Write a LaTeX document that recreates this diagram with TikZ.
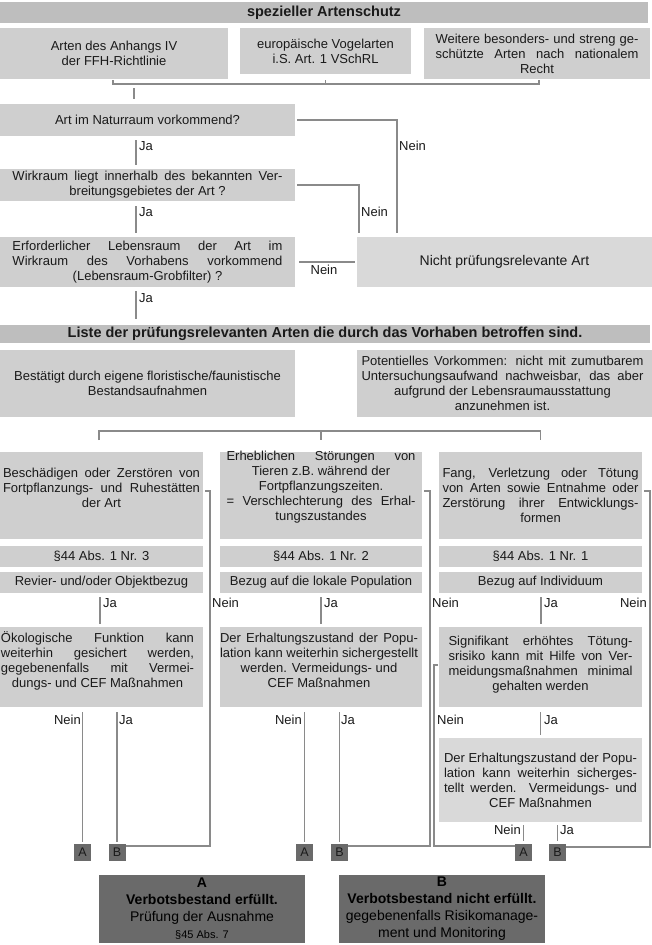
\documentclass[tikz,border=0pt]{standalone}
\usepackage{fontspec}
\setmainfont{Liberation Sans}
\usetikzlibrary{calc}
\definecolor{bgA}{HTML}{BEBEBE}
\definecolor{bgB}{HTML}{CFCFCF}
\definecolor{bgC}{HTML}{D9D9D9}
\definecolor{bgD}{HTML}{6A6A6A}
\definecolor{lineC}{HTML}{8A8A8A}
\definecolor{txtC}{HTML}{1A1A1A}
\newcommand\fsz[2]{\fontsize{#1}{#2}\selectfont}
\newcommand\jl[2]{\makebox[#1pt][s]{#2}}
\begin{document}
\begin{tikzpicture}[x=1pt,y=-1pt,
 fillbox/.style={fill=bgB, draw=none, inner sep=0pt, outer sep=0pt},
 txt/.style={inner sep=0pt, align=center, text=txtC, font=\fsz{13}{15}},
 lbl/.style={inner sep=0pt, text=txtC, font=\fsz{13}{15}},
 conn/.style={draw=lineC, line width=1.1pt},
 ab/.style={fill=bgD, minimum width=17pt, minimum height=17pt, inner sep=0pt, font=\fsz{12.5}{14}, text=txtC},
]
\useasboundingbox (0,0) rectangle (652,945);
\fill[white] (0,0) rectangle (652,945);

% title
\node[fillbox, fill=bgA, minimum width=648pt, minimum height=21pt] (T) at (324,12.5) {};
\node[txt, font=\bfseries\fsz{14.5}{17}] (Tt) at (T) {spezieller Artenschutz};

% row of three
\node[fillbox, minimum width=228pt, minimum height=51pt] (R1) at (114,53.5) {};
\node[txt] (R1t) at (R1) {Arten des Anhangs IV\\der FFH-Richtlinie};
\node[fillbox, minimum width=171pt, minimum height=46pt] (R2) at (325.5,51) {};
\node[txt] (R2t) at (R2) {europäische Vogelarten\\i.S. Art. 1 VSchRL};
\node[fillbox, minimum width=226pt, minimum height=51pt] (R3) at (537,53.5) {};
\node[txt] (R3t) at (R3) {\jl{203}{Weitere besonders- und streng ge-}\\\jl{203}{schützte Arten nach nationalem}\\Recht};

% decision boxes
\node[fillbox, minimum width=295pt, minimum height=32pt] (N1) at (147.5,120) {};
\node[txt] (N1t) at (N1) {Art im Naturraum vorkommend?};
\node[fillbox, minimum width=295pt, minimum height=32pt] (N2) at (147.5,185) {};
\node[txt] (N2t) at (N2) {\jl{270}{Wirkraum liegt innerhalb des bekannten Ver-}\\breitungsgebietes der Art ?};
\node[fillbox, minimum width=295pt, minimum height=50pt] (N3) at (147.5,262) {};
\node[txt] (N3t) at (N3) {\jl{270}{Erforderlicher Lebensraum der Art im}\\\jl{270}{Wirkraum des Vorhabens vorkommend}\\(Lebensraum-Grobfilter) ?};
\node[fillbox, fill=bgC, minimum width=295pt, minimum height=50pt] (NR) at (504.5,262) {};
\node[txt, font=\fsz{14}{16}] (NRt) at (NR) {Nicht prüfungsrelevante Art};

% bracket 1
\coordinate (R1b) at ([yshift=-1pt]R1.south);
\coordinate (j0) at (134,84);
\coordinate (xj) at (136,0);
\draw[conn] ([xshift=-1pt]R1b) |- (j0) -| ([xshift=2pt,yshift=-1pt]R3.south);
\draw[conn] (R2.south |- R1b) -- (R2.south |- j0);
\draw[conn, shorten <=4pt, shorten >=5pt] (j0) -- (j0 |- N1.north);

% Ja / Nein in the upper part
\draw[conn, shorten <=4pt, shorten >=4pt] (N1.south -| xj) -- (N2.north -| xj);
\node[lbl, anchor=west] (Lj1) at (139,146) {Ja};
\coordinate (n1) at (397,120);
\draw[conn, shorten >=4pt] ([xshift=2pt]N1.east) -- (n1) -- (n1 |- NR.north);
\node[lbl, anchor=west] (Ln1) at (399,146) {Nein};
\draw[conn, shorten <=5pt, shorten >=4pt] (N2.south -| xj) -- (N3.north -| xj);
\node[lbl, anchor=west] (Lj2) at (139,212) {Ja};
\coordinate (n2) at (359,185);
\draw[conn, shorten >=4pt] ([xshift=2pt]N2.east) -- (n2) -- (n2 |- NR.north);
\node[lbl, anchor=west] (Ln2) at (361,212) {Nein};
\draw[conn, shorten <=4pt, shorten >=2pt] (N3.east) -- (NR.west);
\node[lbl, anchor=north] (Ln3) at (324,265) {Nein};

% list bar
\node[fillbox, fill=bgA, minimum width=650pt, minimum height=18pt] (LB) at (325,333.5) {};
\node[txt, font=\bfseries\fsz{14.5}{17}] (LBt) at (LB) {Liste der prüfungsrelevanten Arten die durch das Vorhaben betroffen sind.};
\draw[conn, shorten <=4pt, shorten >=6pt] (N3.south -| xj) -- (LB.north -| xj);
\node[lbl, anchor=west] (Lj3) at (139,298) {Ja};

\node[fillbox, minimum width=295pt, minimum height=67pt] (BE) at (147.5,383.5) {};
\node[txt] (BEt) at (BE) {Bestätigt durch eigene floristische/faunistische\\Bestandsaufnahmen};
\node[fillbox, minimum width=295pt, minimum height=67pt] (PV) at (504.5,383.5) {};
\node[txt] (PVt) at ([xshift=-2pt]PV.center) {\jl{282}{Potentielles Vorkommen: nicht mit zumutbarem}\\\jl{282}{Untersuchungsaufwand nachweisbar, das aber}\\aufgrund der Lebensraumausstattung\\anzunehmen ist.};

% three columns
\node[fillbox, minimum width=203pt, minimum height=87pt] (C1) at (101.5,495.5) {};
\node[txt] (C1t) at ([yshift=7.5pt]C1.center) {\jl{197}{Beschädigen oder Zerstören von}\\\jl{197}{Fortpflanzungs- und Ruhestätten}\\der Art};
\node[fillbox, minimum width=202pt, minimum height=87pt] (C2) at (321,495.5) {};
\node[txt] (C2t) at ([yshift=8pt]C2.center) {\jl{189}{Erheblichen Störungen von}\\Tieren z.B. während der\\Fortpflanzungszeiten.\\\jl{189}{= Verschlechterung des Erhal-}\\tungszustandes};
\node[fillbox, minimum width=203pt, minimum height=87pt] (C3) at (540.5,495.5) {};
\node[txt] (C3t) at (C3) {\jl{196}{Fang, Verletzung oder Tötung}\\\jl{196}{von Arten sowie Entnahme oder}\\\jl{196}{Zerstörung ihrer Entwicklungs-}\\formen};

\coordinate (k) at (321,431);
\draw[conn] ([xshift=-2.5pt,yshift=12pt]C1.north) |- (k) -| ([yshift=12pt]C3.north);
\draw[conn] (k) -- ([yshift=12pt]C2.north);

\node[fillbox, minimum width=203pt, minimum height=21pt] (P1) at (101.5,556.5) {};
\node[txt] (P1t) at (P1) {§44 Abs. 1 Nr. 3};
\node[fillbox, minimum width=202pt, minimum height=21pt] (P2) at (321,556.5) {};
\node[txt] (P2t) at (P2) {§44 Abs. 1 Nr. 2};
\node[fillbox, minimum width=203pt, minimum height=21pt] (P3) at (540.5,556.5) {};
\node[txt] (P3t) at (P3) {§44 Abs. 1 Nr. 1};

\node[fillbox, minimum width=203pt, minimum height=21pt] (Z1) at (101.5,582.5) {};
\node[txt] (Z1t) at (Z1) {Revier- und/oder Objektbezug};
\node[fillbox, minimum width=202pt, minimum height=21pt] (Z2) at (321,582.5) {};
\node[txt] (Z2t) at (Z2) {Bezug auf die lokale Population};
\node[fillbox, minimum width=203pt, minimum height=21pt] (Z3) at (540.5,582.5) {};
\node[txt] (Z3t) at (Z3) {Bezug auf Individuum};

\node[fillbox, minimum width=203pt, minimum height=80pt] (L1) at (101.5,667) {};
\node[txt] (L1t) at ([xshift=-4pt,yshift=6pt]L1.center) {\jl{193}{Ökologische Funktion kann}\\\jl{193}{weiterhin gesichert werden,}\\\jl{193}{gegebenenfalls mit Vermei-}\\dungs- und CEF Maßnahmen};
\node[fillbox, minimum width=202pt, minimum height=80pt] (L2) at (321,667) {};
\node[txt] (L2t) at ([xshift=-2pt,yshift=7pt]L2.center) {\jl{198}{Der Erhaltungszustand der Popu-}\\\jl{198}{lation kann weiterhin sichergestellt}\\werden. Vermeidungs- und\\CEF Maßnahmen};
\node[fillbox, minimum width=203pt, minimum height=80pt] (L3) at (540.5,667) {};
\node[txt] (L3t) at ([yshift=2pt]L3.center) {\jl{184}{Signifikant erhöhtes Tötung-}\\\jl{184}{srisiko kann mit Hilfe von Ver-}\\\jl{184}{meidungsmaßnahmen minimal}\\gehalten werden};

\node[fillbox, fill=bgC, minimum width=203pt, minimum height=84pt] (M3) at (540.5,780) {};
\node[txt] (M3t) at (M3) {\jl{193}{Der Erhaltungszustand der Popu-}\\\jl{193}{lation kann weiterhin sicherges-}\\\jl{193}{tellt werden. Vermeidungs- und}\\CEF Maßnahmen};

% Ja lines Bezug -> lower boxes
\draw[conn, shorten <=4pt, shorten >=3pt] ([xshift=-1.5pt]Z1.south) -- ([xshift=-1.5pt]L1.north);
\draw[conn, shorten <=4pt, shorten >=3pt] (Z2.south) -- (L2.north);
\draw[conn, shorten <=4pt, shorten >=3pt] ([xshift=0.5pt]Z3.south) -- ([xshift=0.5pt]L3.north);
\node[lbl, anchor=west] (Jz1) at (103,603) {Ja};
\node[lbl, anchor=west] (Jz2) at (324,603) {Ja};
\node[lbl, anchor=west] (Jz3) at (544,603) {Ja};
\node[lbl, anchor=west] (Nz1) at (212,603) {Nein};
\node[lbl, anchor=west] (Nz2) at (432,603) {Nein};
\node[lbl, anchor=east] (Nz3) at (647,603) {Nein};

% small A/B boxes
\node[ab] (a1) at (82.5,852.5) {A};
\node[ab] (b1) at (117,852.5) {B};
\node[ab] (a2) at (304.5,852.5) {A};
\node[ab] (b2) at (339.5,852.5) {B};
\node[ab] (a3) at (523.5,852) {A};
\node[ab] (b3) at (557.5,852) {B};

\draw[conn, shorten <=5pt, shorten >=2pt] (L1.south -| a1.north) -- (a1.north);
\draw[conn, shorten <=5pt, shorten >=2pt] (L1.south -| b1.north) -- (b1.north);
\node[lbl, anchor=east] (Na1) at (81,720) {Nein};
\node[lbl, anchor=west] (Jb1) at (119,720) {Ja};
\draw[conn, shorten <=5pt, shorten >=2pt] (L2.south -| a2.north) -- (a2.north);
\draw[conn, shorten <=5pt, shorten >=2pt] (L2.south -| b2.north) -- (b2.north);
\node[lbl, anchor=east] (Na2) at (302,720) {Nein};
\node[lbl, anchor=west] (Jb2) at (341,720) {Ja};

\draw[conn, shorten <=5pt, shorten >=3pt] (L3.south) -- (M3.north);
\node[lbl, anchor=west] (Jm3) at (544,720) {Ja};
\node[lbl, anchor=west] (Nm3) at (437,720) {Nein};
\draw[conn, shorten <=3pt, shorten >=2pt] (M3.south -| a3.north) -- (a3.north);
\draw[conn, shorten <=3pt, shorten >=2pt] (M3.south -| b3.north) -- (b3.north);
\node[lbl, anchor=east] (Na3) at (521,830) {Nein};
\node[lbl, anchor=west] (Jb3) at (560,830) {Ja};

% Nein side connectors
\coordinate (r1) at (210,846);
\draw[conn] ([xshift=2pt,yshift=4.5pt]C1.east) -| (r1) -- (r1 -| b1.east);
\coordinate (r2) at (430,846);
\draw[conn] ([xshift=2pt,yshift=4.5pt]C2.east) -| (r2) -- (r2 -| b2.east);
\coordinate (r3) at (434,846);
\draw[conn] ([xshift=-1pt,yshift=2pt]L3.west) -| (r3) -- (r3 -| a3.west);
\coordinate (r4) at (650,847);
\draw[conn] ([xshift=2pt,yshift=4.5pt]C3.east) -| (r4) -- (r4 -| b3.east);

% final boxes
\node[fillbox, fill=bgD, minimum width=206pt, minimum height=68pt] (FA) at (202,909) {};
\node[txt, font=\fsz{14}{17}, text=black] (FAt) at (FA) {\textbf{A}\\\textbf{Verbotsbestand erfüllt.}\\Prüfung der Ausnahme\\{\fsz{11}{14}§45 Abs. 7}};
\node[fillbox, fill=bgD, minimum width=206pt, minimum height=68pt] (FB) at (442,909) {};
\node[txt, font=\fsz{14}{17}, text=black] (FBt) at (FB) {\textbf{B}\\\textbf{Verbotsbestand nicht erfüllt.}\\gegebenenfalls Risikomanage-\\ment und Monitoring};
\end{tikzpicture}
\end{document}
